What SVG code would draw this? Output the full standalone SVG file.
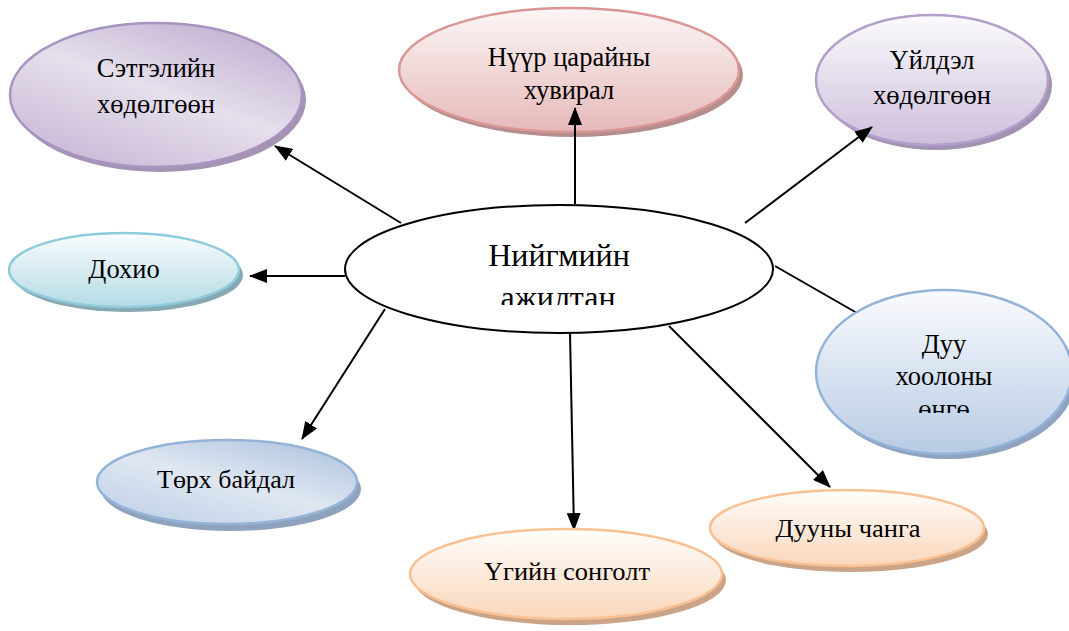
<svg xmlns="http://www.w3.org/2000/svg" width="1069" height="631" viewBox="0 0 1069 631">
<style>
  text { font-family: "Liberation Serif", "DejaVu Serif", serif; fill: #000; text-anchor: middle; }
  .t { font-size: 26.5px; }
  .tc { font-size: 26px; }
  .big { font-size: 32px; }
  .edge { stroke: #000; stroke-width: 2; fill: none; marker-end: url(#arr); }
  .edge-plain { stroke: #000; stroke-width: 2; fill: none; }
  .node { stroke-width: 2.5; }
</style>
<defs>
  <marker id="arr" viewBox="0 0 18 14" refX="17" refY="7" markerWidth="18" markerHeight="14" markerUnits="userSpaceOnUse" orient="auto">
    <path d="M0,0 L18,7 L0,14 Z" fill="#000"/>
  </marker>
  <linearGradient id="gPurple1" x1="1" y1="0" x2="0.3" y2="1">
    <stop offset="0" stop-color="#b9a6cb"/>
    <stop offset="0.55" stop-color="#e6dfec"/>
    <stop offset="1" stop-color="#cbbcd8"/>
  </linearGradient>
  <linearGradient id="gPurple2" x1="0" y1="0" x2="0" y2="1">
    <stop offset="0" stop-color="#fbfafc"/>
    <stop offset="1" stop-color="#cdbfdc"/>
  </linearGradient>
  <linearGradient id="gRed" x1="0" y1="0" x2="0" y2="1">
    <stop offset="0" stop-color="#fcf6f6"/>
    <stop offset="1" stop-color="#e6b9b9"/>
  </linearGradient>
  <linearGradient id="gCyan" x1="0" y1="0" x2="0" y2="1">
    <stop offset="0" stop-color="#fafdfe"/>
    <stop offset="1" stop-color="#b3dbe5"/>
  </linearGradient>
  <linearGradient id="gBlue" x1="0" y1="0" x2="0" y2="1">
    <stop offset="0" stop-color="#fafbfe"/>
    <stop offset="1" stop-color="#b8cbe4"/>
  </linearGradient>
  <linearGradient id="gBlue2" x1="1" y1="0" x2="0.2" y2="1">
    <stop offset="0" stop-color="#a9bfdc"/>
    <stop offset="0.55" stop-color="#dfe7f2"/>
    <stop offset="1" stop-color="#c2d2e8"/>
  </linearGradient>
  <linearGradient id="gOrange" x1="0" y1="0" x2="0" y2="1">
    <stop offset="0" stop-color="#fffdfb"/>
    <stop offset="1" stop-color="#fad7bb"/>
  </linearGradient>
  <clipPath id="clipCenter"><rect x="340" y="200" width="440" height="105"/></clipPath>
  <clipPath id="clipDuu"><rect x="810" y="280" width="259" height="133"/></clipPath>
</defs>

<g id="node-setgel">
  <ellipse cx="160" cy="100" rx="146" ry="72" fill="#a593b3"/>
  <ellipse class="node" cx="156" cy="95" rx="146" ry="72" fill="url(#gPurple1)" stroke="#a894c0"/>
  <text class="t" x="156" y="77">Сэтгэлийн</text>
  <text class="t" x="156" y="113">хөдөлгөөн</text>
</g>

<g id="node-nuur">
  <ellipse cx="573" cy="75" rx="170" ry="62" fill="#b48d8d"/>
  <ellipse class="node" cx="569" cy="70" rx="170" ry="62" fill="url(#gRed)" stroke="#d99694"/>
  <text class="t" x="569" y="66">Нүүр царайны</text>
  <text class="t" x="569" y="99">хувирал</text>
</g>

<g id="node-uildel">
  <ellipse cx="936" cy="85" rx="116" ry="65" fill="#a393b3"/>
  <ellipse class="node" cx="932" cy="80" rx="116" ry="65" fill="url(#gPurple2)" stroke="#b29fca"/>
  <text class="t" x="932" y="69">Үйлдэл</text>
  <text class="t" x="932" y="104">хөдөлгөөн</text>
</g>

<g id="node-dokhio">
  <ellipse cx="128" cy="275" rx="115" ry="37" fill="#87a9b3"/>
  <ellipse class="node" cx="124" cy="270" rx="115" ry="37" fill="url(#gCyan)" stroke="#8fcbda"/>
  <text class="t" x="124" y="278">Дохио</text>
</g>

<g id="node-center">
  <ellipse cx="559" cy="269" rx="214" ry="64" fill="#fff" stroke="#000" stroke-width="2"/>
  <text class="big" x="559" y="266">Нийгмийн</text>
  <text class="big" x="558" y="308" clip-path="url(#clipCenter)">ажилтан</text>
</g>

<g id="connectors">
  <line class="edge-plain" x1="775" y1="266" x2="857" y2="313"/>
  <line class="edge" x1="401" y1="223" x2="275" y2="146"/>
  <line class="edge" x1="575" y1="204" x2="575" y2="108"/>
  <line class="edge" x1="745" y1="223" x2="872" y2="127"/>
  <line class="edge" x1="345" y1="276" x2="250" y2="276"/>
  <line class="edge" x1="385" y1="309" x2="302" y2="439"/>
  <line class="edge" x1="570" y1="333" x2="574" y2="530"/>
  <line class="edge" x1="669" y1="326" x2="830" y2="487"/>
</g>

<g id="node-duu">
  <ellipse cx="948" cy="377" rx="128" ry="82" fill="#8fa3bf"/>
  <ellipse class="node" cx="944" cy="372" rx="128" ry="82" fill="url(#gBlue)" stroke="#94b3d8"/>
  <text class="t" x="944" y="353">Дуу</text>
  <text class="t" x="944" y="385">хоолоны</text>
  <text class="t" x="944" y="418" clip-path="url(#clipDuu)">өнгө</text>
</g>

<g id="node-torkh">
  <ellipse cx="231" cy="489" rx="130" ry="42" fill="#8ea2bd"/>
  <ellipse class="node" cx="227" cy="482" rx="130" ry="42" fill="url(#gBlue2)" stroke="#95b3d7"/>
  <text class="tc" x="226" y="488" textLength="138" lengthAdjust="spacingAndGlyphs">Төрх байдал</text>
</g>

<g id="node-ugiin">
  <ellipse cx="570" cy="580" rx="156" ry="45" fill="#cba487"/>
  <ellipse class="node" cx="566" cy="574" rx="156" ry="45" fill="url(#gOrange)" stroke="#f9c193"/>
  <text class="tc" x="567" y="580" textLength="166" lengthAdjust="spacingAndGlyphs">Үгийн сонголт</text>
</g>

<g id="node-duuny">
  <ellipse cx="851" cy="534" rx="137" ry="38" fill="#cba487"/>
  <ellipse class="node" cx="847" cy="528" rx="137" ry="38" fill="url(#gOrange)" stroke="#f9c193"/>
  <text class="tc" x="848" y="537" textLength="145" lengthAdjust="spacingAndGlyphs">Дууны чанга</text>
</g>
</svg>
